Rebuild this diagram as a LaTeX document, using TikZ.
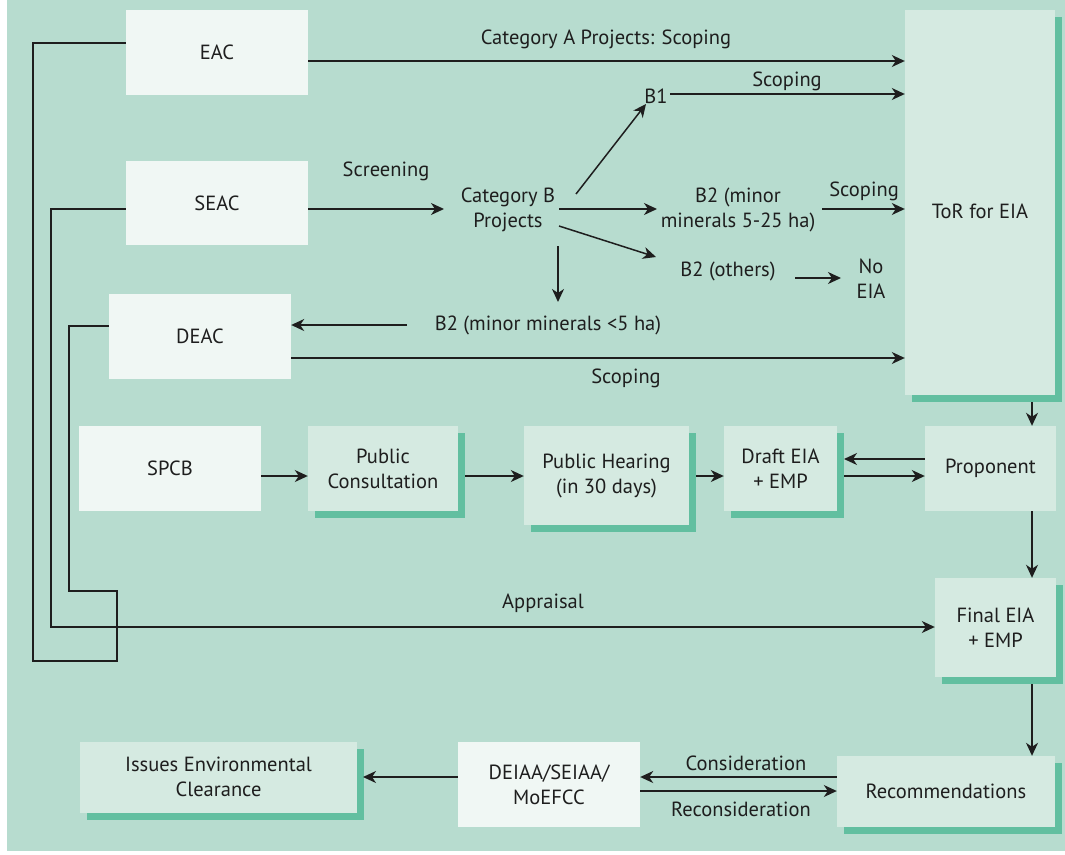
\documentclass[tikz,border=0pt]{standalone}
\usepackage{fontspec}
\setmainfont{PT Sans}
\usetikzlibrary{arrows.meta,shadows}
\definecolor{bgc}{HTML}{B7DCCF}
\definecolor{wbc}{HTML}{F0F7F4}
\definecolor{lbc}{HTML}{D5EAE1}
\definecolor{shc}{HTML}{62BFA0}
\definecolor{ink}{HTML}{1E1E1E}
\begin{document}
\begin{tikzpicture}[x=1pt,y=-1pt,
  font=\fontsize{20.5}{25}\selectfont,
  wbox/.style={fill=wbc, inner sep=0pt, align=center, text=ink},
  lbox/.style={fill=lbc, inner sep=0pt, align=center, text=ink},
  sbox/.style={lbox, drop shadow={fill=shc, opacity=1, shadow xshift=7pt, shadow yshift=-7pt}},
  lbl/.style={inner sep=0pt, text=ink, align=center},
  arr/.style={draw=ink, line width=1.5pt, -{Stealth[length=13pt,width=12pt,inset=4pt]}},
  ln/.style={draw=ink, line width=1.5pt}]
\useasboundingbox (0,0) rectangle (1065,854);
\fill[white] (0,0) rectangle (1065,854);
\fill[bgc] (7,0) rectangle (1065,851);

% boxes
\node[wbox, minimum width=182pt, minimum height=85pt] (eac) at (217,52.5) {EAC};
\node[wbox, minimum width=182pt, minimum height=84pt] (seac) at (217,203) {SEAC};
\node[wbox, minimum width=182pt, minimum height=85pt] (deac) at (200,336.5) {DEAC};
\node[wbox, minimum width=182pt, minimum height=85pt] (spcb) at (170,468.5) {SPCB};
\node[sbox, minimum width=150pt, minimum height=85pt] (pc) at (383,468.5) {Public\\Consultation};
\node[sbox, minimum width=165pt, minimum height=99pt] (ph) at (606.5,475.5) {Public Hearing\\(in 30 days)};
\node[sbox, minimum width=113pt, minimum height=85pt] (draft) at (780.5,468.5) {Draft EIA\\+ EMP};
\node[lbox, minimum width=131pt, minimum height=85pt] (prop) at (990.5,468.5) {Proponent};
\node[sbox, minimum width=121pt, minimum height=99pt] (final) at (995.5,627.5) {Final EIA\\+ EMP};
\node[sbox, minimum width=150pt, minimum height=385pt] (tor) at (980,202.5) {};
\node[lbl] (tortext) at (980,211) {ToR for EIA};
\node[sbox, minimum width=277pt, minimum height=71pt] (iec) at (218.5,777) {Issues Environmental\\Clearance};
\node[wbox, minimum width=182pt, minimum height=85pt] (deiaa) at (549,784.5) {DEIAA/SEIAA/\\MoEFCC};
\node[sbox, minimum width=218pt, minimum height=71pt] (rec) at (946,791.5) {Recommendations};

% text nodes
\node[lbl] (catb) at (508,210) {Category B\\Projects};
\node[lbl] (b1) at (656,96) {B1};
\node[lbl] (b2a) at (738,210) {B2 (minor\\minerals 5-25 ha)};
\node[lbl] (b2o) at (728,271) {B2 (others)};
\node[lbl] (noeia) at (871,279) {No\\EIA};
\node[lbl] (b2c) at (548,325) {B2 (minor minerals <5 ha)};

% labels
\node[lbl] (la) at (606,39) {Category A Projects: Scoping};
\node[lbl] (lb1) at (787,81) {Scoping};
\node[lbl] (lscr) at (386,171) {Screening};
\node[lbl] (lb2) at (864,191) {Scoping};
\node[lbl] (ldeac) at (626,378) {Scoping};
\node[lbl] (lapp) at (543,603) {Appraisal};
\node[lbl] (lcon) at (746,763) {Consideration};
\node[lbl] (lrec) at (741,809) {Reconsideration};

% connectors
\draw[arr] (eac.east |- 0,61) -- (tor.west |- 0,61);
\draw[arr] (670,94) -- (tor.west |- 0,94);
\draw[arr] (seac.east |- 0,209) -- (444,209);
\draw[arr] (576,194) -- (646,104);
\draw[arr] (559,209) -- (657,209);
\draw[arr] (559,226) -- (656,257);
\draw[arr] (558,246) -- (558,302);
\draw[arr] (795,278) -- (841,278);
\draw[arr] (822,209) -- (tor.west |- 0,209);
\draw[arr] (407,325) -- (deac.east |- 0,325);
\draw[arr] (deac.east |- 0,358) -- (tor.west |- 0,358);
\draw[arr] (1032,402) -- (prop.north -| 1032,0);
\draw[arr] (spcb.east |- 0,476) -- (pc.west |- 0,476);
\draw[arr] (465,476) -- (ph.west |- 0,476);
\draw[arr] (696,476) -- (draft.west |- 0,476);
\draw[arr] (prop.west |- 0,459) -- (844,459);
\draw[arr] (844,476) -- (prop.west |- 0,476);
\draw[arr] (prop.south -| 1032,0) -- (final.north -| 1032,0);
\draw[arr] (1032,684) -- (rec.north -| 1032,0);
\draw[arr] (rec.west |- 0,777) -- (deiaa.east |- 0,777);
\draw[arr] (deiaa.east |- 0,791) -- (rec.west |- 0,791);
\draw[arr] (deiaa.west |- 0,777) -- (363,777);
\draw[arr] (seac.west |- 0,209) -- (51,209) -- (51,627) -- (final.west |- 0,627);
\draw[ln] (eac.west |- 0,43) -- (33,43) -- (33,661) -- (117,661) -- (117,591) -- (69,591) -- (69,326) -- (deac.west |- 0,326);
\end{tikzpicture}
\end{document}
